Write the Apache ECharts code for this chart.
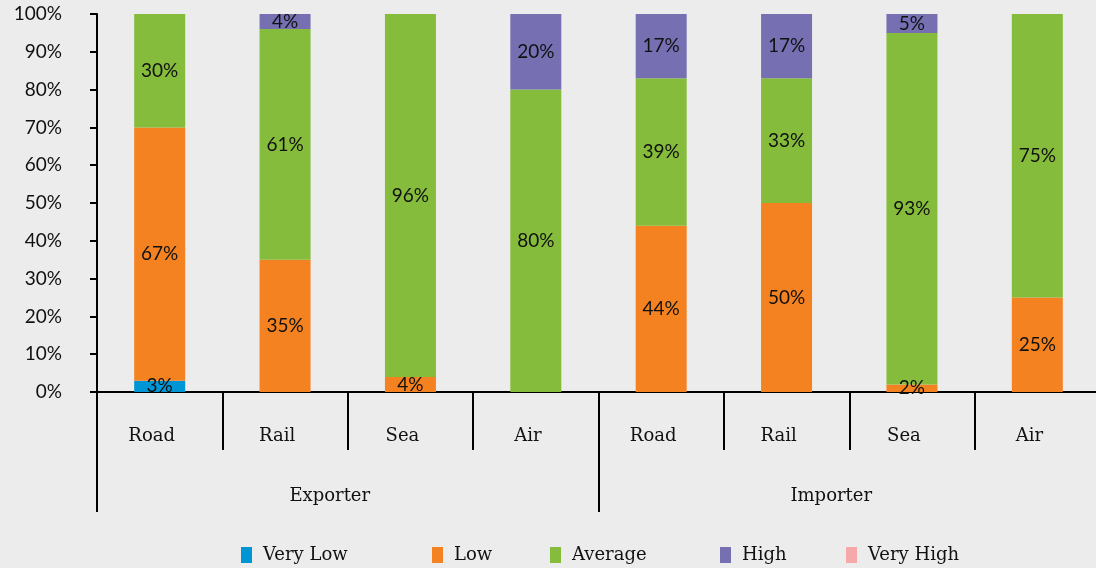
<!DOCTYPE html>
<html>
<head>
<meta charset="utf-8">
<script src="https://cdn.jsdelivr.net/npm/echarts@6/dist/echarts.min.js"></script>
<style>
html,body{margin:0;padding:0;background:#ececec;overflow:hidden;}
#c{width:1112px;height:568px;}
</style>
</head>
<body>
<div id="c"></div>
<script>
var categories = ['Road','Rail','Sea','Air','Road','Rail','Sea','Air'];
var groups = ['Exporter','Importer'];
var seriesNames = ['Very Low','Low','Average','High','Very High'];
var veryLow  = [3, 0, 0, 0, 0, 0, 0, 0];
var low      = [67, 35, 4, 0, 44, 50, 2, 25];
var average  = [30, 61, 96, 80, 39, 33, 93, 75];
var high     = [0, 4, 0, 20, 17, 17, 5, 0];
var veryHigh = [0, 0, 0, 0, 0, 0, 0, 0];
var yTicks = [0,10,20,30,40,50,60,70,80,90,100];

var colors = ['#0096d6','#f58220','#86bc3c','#7670b3','#f7a8ab'];
var values = [veryLow, low, average, high, veryHigh];
var labelFont = 'Lato, "Liberation Sans", sans-serif';
var serifFont = '"DejaVu Serif", "Liberation Serif", serif';

var chart = echarts.init(document.getElementById('c'));
var series = seriesNames.map(function(n,i){
  return {
    name:n, type:'bar', stack:'total', barWidth:51,
    data: values[i],
    itemStyle:{color:colors[i]},
    label:{show:true, position:'inside', color:'#111', fontFamily:labelFont, fontSize:19,
      formatter:function(p){return p.value>0 ? p.value+'%' : '';}},
    xAxisIndex:0, yAxisIndex:0
  };
});
var legendLeft = [236, 427, 545, 715, 841];
var legends = seriesNames.map(function(n,i){
  return {data:[n], left:legendLeft[i], top:541, itemWidth:11, itemHeight:16, icon:'rect',
    itemGap:0, textStyle:{fontFamily:serifFont, fontSize:18, color:'#111', padding:[0,0,0,6]}, selectedMode:false};
});
chart.setOption({
  backgroundColor:'#ececec',
  animation:false,
  grid:{left:97, top:14, width:1003, height:378, containLabel:false},
  legend: legends,
  xAxis:[
    {type:'category', data:categories, position:'bottom',
     axisLine:{lineStyle:{color:'#000', width:2}},
     axisTick:{show:true, interval:0, length:58, lineStyle:{color:'#000', width:2}},
     axisLabel:{interval:0, margin:35, fontFamily:serifFont, fontSize:18, color:'#111', padding:[0,16,0,0]}},
    {type:'category', data:groups, position:'bottom',
     axisLine:{show:false},
     axisTick:{show:true, interval:0, length:120, lineStyle:{color:'#000', width:2}},
     axisLabel:{interval:0, margin:95, fontFamily:serifFont, fontSize:18, color:'#111', padding:[0,36,0,0]}}
  ],
  yAxis:[{type:'value', min:0, max:100, interval:10,
    axisLine:{show:true, lineStyle:{color:'#000', width:2}},
    axisTick:{show:true, length:7, lineStyle:{color:'#000', width:2}},
    splitLine:{show:false},
    axisLabel:{margin:35, fontFamily:labelFont, fontSize:19, color:'#111',
      formatter:function(v){return v+'%';}}}],
  series: series
});
</script>
</body>
</html>
